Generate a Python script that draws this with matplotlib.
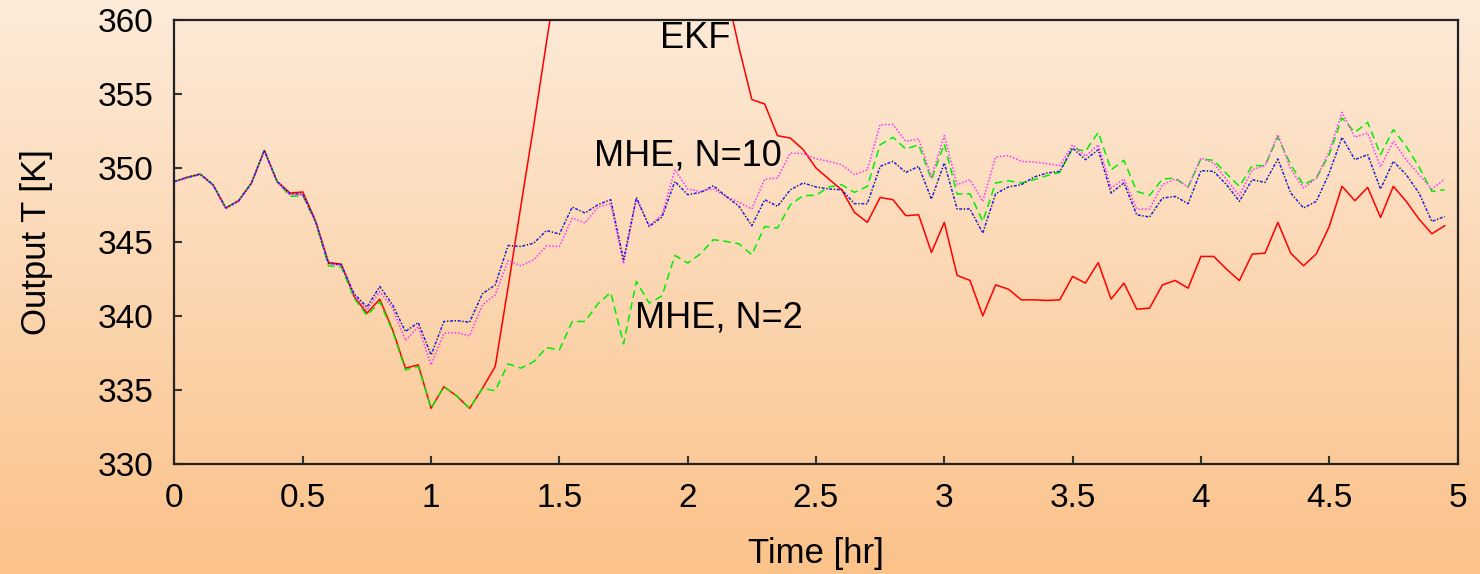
import numpy as np
import matplotlib
matplotlib.use('Agg')
import matplotlib.pyplot as plt
from matplotlib.colors import LinearSegmentedColormap

# czas probkowania 0.05 h, 100 probek
t = [i * 0.05 for i in range(100)]

# EKF (wartosci miedzy 1.5 a 2.15 h sa poza wykresem)
ekf = [349.07, 349.35, 349.57, 348.85, 347.28, 347.77, 348.97, 351.17, 349.07, 348.29,
       348.36, 346.40, 343.60, 343.49, 341.30, 340.18, 341.13, 339.05, 336.47, 336.69,
       333.76, 335.22, 334.59, 333.76, 335.11, 336.58, 341.93, 347.43, 352.85, 358.50,
       364.0, 369.0, 373.0, 376.0, 378.0, 379.0, 379.0, 378.0, 376.0, 374.0,
       371.0, 368.0, 365.0, 362.0, 358.10, 354.60, 354.30, 352.16, 352.00, 351.22,
       349.98, 349.23, 348.51, 346.98, 346.31, 347.99, 347.84, 346.76, 346.82, 344.28,
       346.31, 342.73, 342.39, 340.00, 342.09, 341.80, 341.08, 341.08, 341.04, 341.08,
       342.66, 342.21, 343.60, 341.13, 342.21, 340.45, 340.52, 342.09, 342.39, 341.87,
       344.01, 344.01, 343.15, 342.38, 344.17, 344.23, 346.31, 344.23, 343.38, 344.19,
       346.03, 348.74, 347.77, 348.67, 346.64, 348.74, 347.73, 346.53, 345.54, 346.08]

# MHE, N=2
mhe2 = [349.07, 349.35, 349.57, 348.85, 347.28, 347.77, 348.97, 351.17, 349.07, 348.06,
        348.10, 346.30, 343.38, 343.29, 341.19, 340.02, 340.95, 338.94, 336.35, 336.58,
        333.76, 335.22, 334.59, 333.76, 335.11, 334.95, 336.76, 336.47, 336.91, 337.86,
        337.70, 339.62, 339.62, 340.81, 341.58, 338.11, 342.32, 340.86, 341.35, 344.08,
        343.56, 344.19, 345.14, 345.02, 344.86, 344.12, 346.03, 345.92, 347.50, 348.11,
        348.14, 348.70, 348.85, 348.33, 348.74, 351.55, 352.05, 351.26, 351.55, 349.19,
        351.60, 348.22, 348.24, 346.37, 348.97, 349.12, 348.97, 349.19, 349.46, 349.68,
        351.33, 351.10, 352.39, 349.86, 350.50, 348.40, 348.13, 349.23, 349.30, 348.70,
        350.59, 350.50, 349.59, 348.74, 350.14, 350.14, 352.07, 350.20, 348.85, 349.30,
        350.88, 353.36, 352.39, 353.06, 350.88, 352.57, 351.44, 350.05, 348.40, 348.51]

# MHE, N=10
mhe10 = [349.07, 349.35, 349.57, 348.85, 347.28, 347.77, 348.97, 351.17, 349.07, 348.24,
         348.22, 346.37, 343.56, 343.45, 341.49, 340.59, 341.98, 340.74, 338.94, 339.55,
         337.36, 339.62, 339.68, 339.57, 341.49, 342.09, 344.75, 344.68, 344.91, 345.76,
         345.52, 347.34, 346.94, 347.50, 347.84, 343.78, 347.99, 346.03, 346.67, 349.07,
         348.18, 348.33, 348.78, 348.06, 347.39, 346.08, 347.84, 347.39, 348.51, 348.97,
         348.70, 348.56, 348.51, 347.57, 347.57, 350.09, 350.43, 349.68, 350.09, 347.88,
         350.32, 347.21, 347.21, 345.59, 348.24, 348.70, 348.85, 349.37, 349.64, 349.75,
         351.33, 350.54, 351.22, 348.29, 348.97, 346.82, 346.67, 347.95, 348.06, 347.57,
         349.80, 349.75, 348.85, 347.73, 349.19, 349.01, 350.59, 348.29, 347.28, 347.73,
         349.64, 352.05, 350.54, 350.88, 348.56, 350.43, 349.53, 348.29, 346.37, 346.71]

# czwarta krzywa (kropkowana, rozowa)
mhe_m = [349.05, 349.30, 349.52, 348.80, 347.22, 347.72, 348.92, 351.12, 349.02, 348.15,
         348.15, 346.30, 343.50, 343.40, 341.40, 340.40, 341.64, 340.52, 338.33, 339.28,
         336.69, 338.83, 338.87, 338.65, 340.74, 341.42, 343.74, 343.38, 343.78, 344.73,
         344.68, 346.60, 346.26, 347.34, 347.57, 343.51, 347.90, 346.08, 346.82, 349.86,
         348.56, 348.40, 348.56, 348.06, 347.66, 347.21, 349.23, 349.30, 350.99, 350.95,
         350.60, 350.43, 350.20, 349.53, 349.86, 352.91, 352.91, 351.78, 351.93, 349.37,
         352.16, 348.85, 349.19, 347.73, 350.72, 350.81, 350.43, 350.38, 350.27, 350.14,
         351.55, 350.77, 351.55, 348.63, 349.23, 347.21, 347.21, 348.85, 349.23, 348.70,
         350.65, 350.32, 349.19, 348.11, 349.86, 350.14, 352.23, 349.91, 348.63, 349.30,
         351.10, 353.74, 352.05, 352.34, 350.05, 351.78, 350.54, 349.53, 348.56, 349.23]

xticks = [0, 0.5, 1, 1.5, 2, 2.5, 3, 3.5, 4, 4.5, 5]
yticks = [330, 335, 340, 345, 350, 355, 360]

plt.rcParams['font.family'] = ['Liberation Sans', 'DejaVu Sans']

fig = plt.figure(figsize=(14.8, 5.74), dpi=100)

# tlo - gradient od jasnego do pomaranczowego
bg = fig.add_axes([0, 0, 1, 1], zorder=0)
cmap = LinearSegmentedColormap.from_list('tlo', ['#fdebd9', '#fbc28a'])
grad = np.linspace(0, 1, 256).reshape(-1, 1)
bg.imshow(grad, aspect='auto', cmap=cmap, extent=[0, 1, 0, 1])
bg.axis('off')

ax = fig.add_axes([0.1179, 0.1916, 0.8669, 0.7744], zorder=1)
ax.patch.set_alpha(0)

lw = 1.1
ax.plot(t, ekf, color='#ff0000', lw=lw)
ax.plot(t, mhe2, color='#00ee00', lw=lw, linestyle=(0, (5, 3)))
ax.plot(t, mhe_m, color='#ff33ff', lw=lw, linestyle=(0, (1, 1.2)))
# niebieska kreskowana, czarne kropki w przerwach
ax.plot(t, mhe10, color='#2020ff', lw=lw, linestyle=(0, (2, 3)))
ax.plot(t, mhe10, color='#111111', lw=lw, linestyle=(1.9, (0.8, 4.2)))

ax.text(2.03, 358.7, 'EKF', fontsize=26, ha='center', va='center')
ax.text(2.0, 350.8, 'MHE, N=10', fontsize=26, ha='center', va='center')
ax.text(2.12, 339.85, 'MHE, N=2', fontsize=26, ha='center', va='center')

ax.set_xlim(0, 5)
ax.set_ylim(330, 360)
ax.set_xticks(xticks)
ax.set_xticklabels(['0', '0.5', '1', '1.5', '2', '2.5', '3', '3.5', '4', '4.5', '5'])
ax.set_yticks(yticks)
ax.tick_params(direction='in', length=6, width=1.5, labelsize=24, color='#333333')
ax.tick_params(axis='y', pad=15)
ax.tick_params(axis='x', pad=14)
for s in ax.spines.values():
    s.set_linewidth(1.6)
    s.set_color('#222222')

ax.set_xlabel('Time [hr]', fontsize=25, labelpad=16)
ax.set_ylabel('Output T [K]', fontsize=25, labelpad=32)

fig.savefig('out.png', dpi=100)
